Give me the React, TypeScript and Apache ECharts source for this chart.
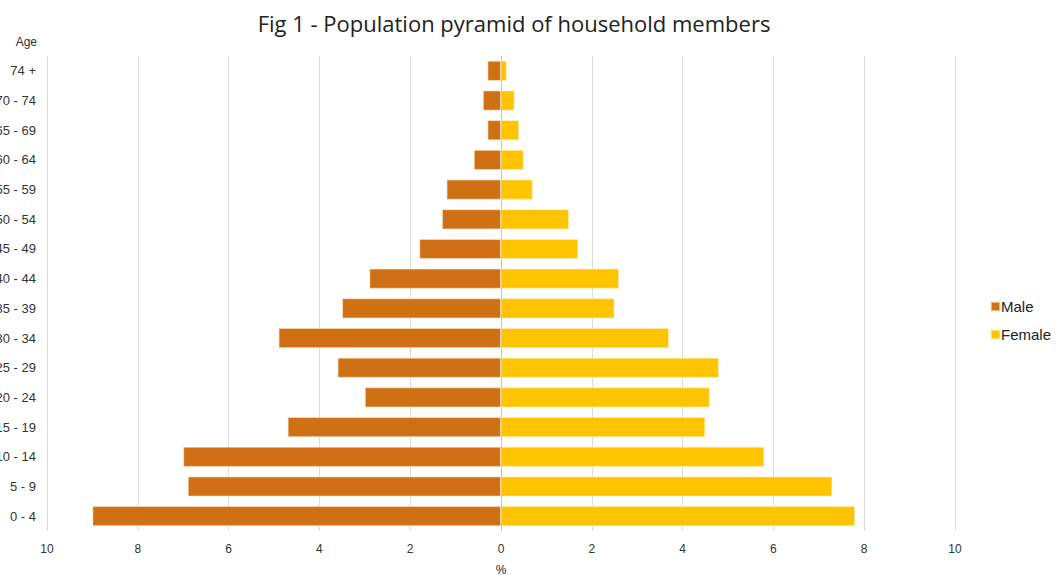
import React, { useEffect, useRef } from "react";
import * as echarts from "echarts";

const ageGroups = ["0 - 4", "5 - 9", "10 - 14", "15 - 19", "20 - 24", "25 - 29", "30 - 34", "35 - 39", "40 - 44", "45 - 49", "50 - 54", "55 - 59", "60 - 64", "65 - 69", "70 - 74", "74 +"];
const maleValues = [9.0, 6.9, 7.0, 4.7, 3.0, 3.6, 4.9, 3.5, 2.9, 1.8, 1.3, 1.2, 0.6, 0.3, 0.4, 0.3];
const femaleValues = [7.8, 7.3, 5.8, 4.5, 4.6, 4.8, 3.7, 2.5, 2.6, 1.7, 1.5, 0.7, 0.5, 0.4, 0.3, 0.13];
const titleText = "Fig 1 - Population pyramid of household members";

export default function App() {
  const ref = useRef<HTMLDivElement>(null);
  useEffect(() => {
    if (!ref.current) return;
    const chart = echarts.init(ref.current, null, { renderer: "svg" });
    chart.setOption({
      animation: false,
      title: {
        text: titleText,
        left: 509,
        textAlign: "center",
        top: 7,
        textStyle: { fontFamily: "Open Sans", fontSize: 22, fontWeight: "normal", color: "#222" },
      },
      legend: {
        orient: "vertical",
        left: 985,
        top: 294,
        itemWidth: 9,
        itemHeight: 9,
        itemGap: 13,
        icon: "rect",
        textStyle: { fontFamily: "Liberation Sans", fontSize: 15, color: "#222", padding: [0, 0, 0, -4] },
        data: ["Male", "Female"],
      },
      graphic: [
        {
          type: "text",
          right: 1061 - 37,
          top: 36,
          style: { text: "Age", fontFamily: "Liberation Sans", fontSize: 12, fill: "#333", textAlign: "right" },
        },
      ],
      grid: { left: 47, width: 908, top: 56, height: 475, containLabel: false, outerBoundsMode: "none" },
      xAxis: {
        type: "value",
        min: -10,
        max: 10,
        interval: 2,
        name: "%",
        nameLocation: "middle",
        nameGap: 33,
        nameTextStyle: { fontFamily: "Liberation Sans", fontSize: 12, color: "#222" },
        axisLine: { show: false },
        axisTick: { show: false },
        axisLabel: {
          fontFamily: "Liberation Sans",
          fontSize: 12,
          color: "#333",
          margin: 12,
          formatter: (v: number) => String(Math.abs(v)),
        },
        splitLine: { show: true, lineStyle: { color: "#dcdcdc", width: 1 } },
      },
      yAxis: {
        type: "category",
        data: ageGroups,
        axisLine: { show: false },
        axisTick: { show: false },
        axisLabel: { fontFamily: "Liberation Sans", fontSize: 13, color: "#333", margin: 11 },
        splitLine: { show: false },
      },
      series: [
        {
          name: "Male",
          type: "bar",
          stack: "pop",
          barWidth: "68%",
          data: maleValues.map((v) => -v),
          itemStyle: { color: "#D07014", borderColor: "rgba(255,230,200,0.6)", borderWidth: 1 },
          markLine: {
            silent: true,
            symbol: "none",
            label: { show: false },
            lineStyle: { color: "#c8c8c8", width: 1, type: "solid" },
            data: [{ xAxis: 0 }],
            z: 5,
          },
        },
        {
          name: "Female",
          type: "bar",
          stack: "pop",
          barWidth: "68%",
          data: femaleValues,
          itemStyle: { color: "#FFC400", borderColor: "rgba(255,240,190,0.6)", borderWidth: 1 },
        },
      ],
    });
    return () => chart.dispose();
  }, []);
  return <div ref={ref} style={{ position: "absolute", left: 0, top: 0, width: 1061, height: 577 }} />;
}
